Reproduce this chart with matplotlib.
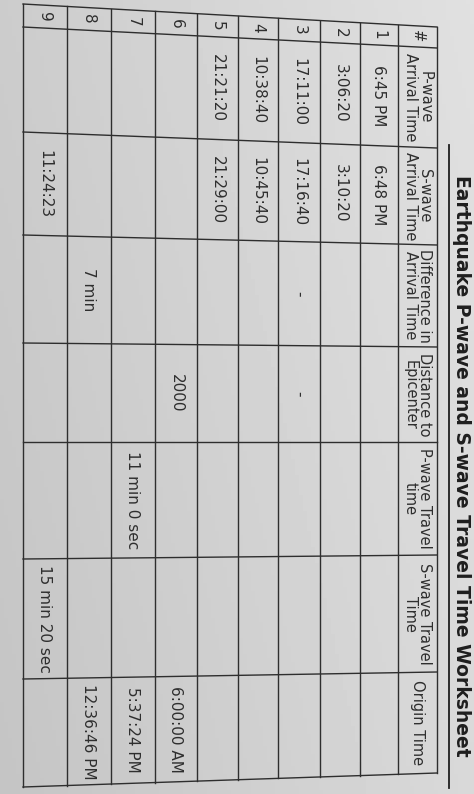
import numpy as np
import matplotlib.pyplot as plt

# table content, rows 1..9
row_ids = ['1', '2', '3', '4', '5', '6', '7', '8', '9']
headers = ['#', 'P-wave\nArrival Time', 'S-wave\nArrival Time', 'Difference in\nArrival Time',
           'Distance to\nEpicenter', 'P-wave Travel\ntime', 'S-wave Travel\nTime', 'Origin Time']
p_arrival = ['6:45 PM', '3:06:20', '17:11:00', '10:38:40', '21:21:20', '', '', '', '']
s_arrival = ['6:48 PM', '3:10:20', '17:16:40', '10:45:40', '21:29:00', '', '', '', '11:24:23']
diff_time = ['', '', '-', '', '', '', '', '7 min', '']
distance = ['', '', '-', '', '', '2000', '', '', '']
p_travel = ['', '', '', '', '', '', '11 min 0 sec', '', '']
s_travel = ['', '', '', '', '', '', '', '', '15 min 20 sec']
origin = ['', '', '', '', '', '6:00:00 AM', '5:37:24 PM', '12:36:46 PM', '']
title = 'Earthquake P-wave and S-wave Travel Time Worksheet'

columns = [row_ids, p_arrival, s_arrival, diff_time, distance, p_travel, s_travel, origin]

# layout of the photographed (rotated) sheet, in pixels
x_left, x_right = 23, 437
row_x = [437, 398, 360, 320, 278, 238, 197, 155, 111, 67, 23]  # header, rows 1..9
col_y = [(4, 27), (27, 48), (132, 148), (235, 245), (343, 347),
         (442, 442), (559, 555), (679, 672), (787, 773)]  # (y at left, y at right)

ink = '#2e2e2e'


def yb(j, x):
    yl, yr = col_y[j]
    return yl + (yr - yl) * (x - x_left) / (x_right - x_left)


fig = plt.figure(figsize=(4.74, 7.94), dpi=100)
fig.patch.set_facecolor('#d2d2ce')
ax = fig.add_axes([0, 0, 1, 1])
ax.set_xlim(0, 474)
ax.set_ylim(794, 0)
ax.axis('off')

# light paper gradient
gy, gx = np.mgrid[0:794:4, 0:474:4]
shade = 0.80 + 0.08 * (gx / 474) - 0.03 * (gy / 794)
ax.imshow(shade, cmap='gray', vmin=0, vmax=1, extent=(0, 474, 794, 0), aspect='auto', zorder=0)

# grid lines
for x in row_x:
    ax.plot([x, x], [yb(0, x), yb(len(col_y) - 1, x)], color=ink, lw=1.0, zorder=2)
for j in range(len(col_y)):
    ax.plot([x_left, x_right], [col_y[j][0], col_y[j][1]], color=ink, lw=1.0, zorder=2)

# header
for j, h in enumerate(headers):
    xc = (row_x[0] + row_x[1]) / 2
    yc = (yb(j, xc) + yb(j + 1, xc)) / 2
    ax.text(xc, yc, h, rotation=-90, ha='center', va='center', fontsize=10.5,
            color=ink, linespacing=0.95, zorder=3)

# cells
for j, col in enumerate(columns):
    for i, val in enumerate(col):
        if not val:
            continue
        xc = (row_x[i + 1] + row_x[i + 2]) / 2
        yc = (yb(j, xc) + yb(j + 1, xc)) / 2
        ax.text(xc, yc, val, rotation=-90, ha='center', va='center', fontsize=11,
                color=ink, zorder=3)

# title with underline
ax.text(462, 466, title, rotation=-90, ha='center', va='center', fontsize=13.5,
        fontweight='bold', color='#1e1e1e', zorder=3)
ax.plot([449, 449], [145, 788], color='#1e1e1e', lw=1.3, zorder=3)

fig.savefig('out.png', dpi=100)
